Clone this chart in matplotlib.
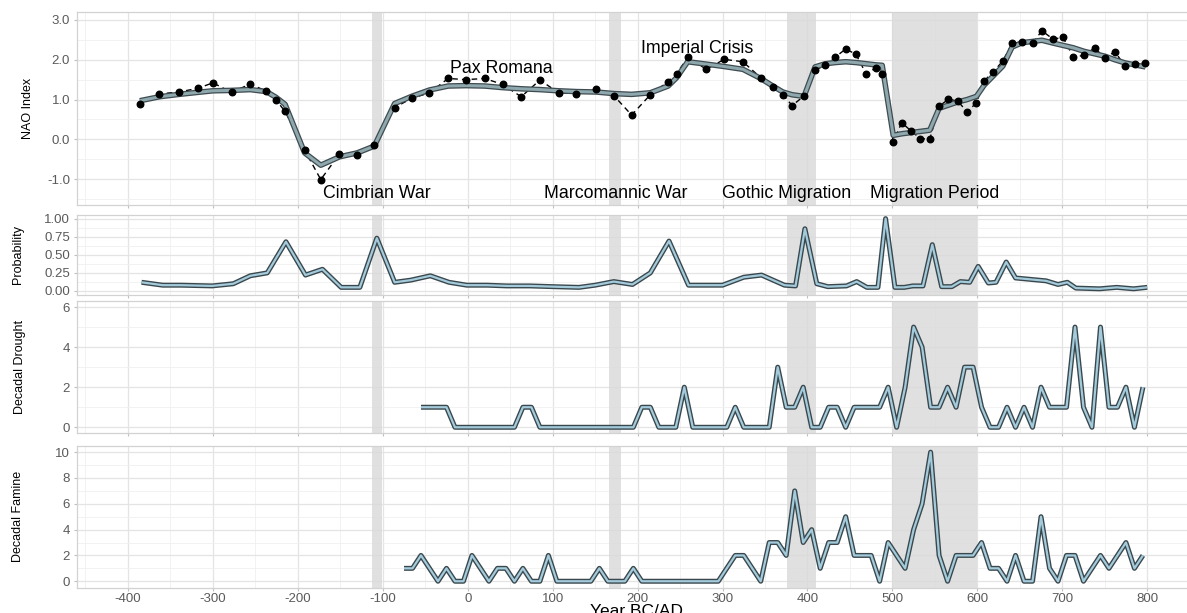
import numpy as np
import matplotlib
matplotlib.use("Agg")
import matplotlib.pyplot as plt
from matplotlib.ticker import MultipleLocator, FormatStrFormatter

plt.rcParams["font.family"] = ["Liberation Sans", "DejaVu Sans"]
plt.rcParams["axes.unicode_minus"] = False

# NAO reconstruction: observed points and smoothed curve
nao_year = [-386, -363, -340, -318, -300, -278, -256, -237, -226, -215, -192, -173, -151, -130,
            -110, -86, -66, -45, -23, -2, 20, 41, 63, 85, 107, 128, 151, 172, 193, 215, 236, 246,
            259, 281, 302, 324, 345, 360, 371, 382, 396, 409, 421, 433, 445, 457, 469, 481, 488,
            501, 511, 522, 533, 544, 555, 566, 577, 588, 599, 608, 619, 630, 641, 653, 665, 676,
            689, 701, 713, 726, 738, 750, 762, 774, 786, 798]
nao_obs = [0.90, 1.14, 1.19, 1.28, 1.42, 1.18, 1.39, 1.21, 1.00, 0.70, -0.27, -1.01, -0.37, -0.40,
           -0.15, 0.80, 1.03, 1.17, 1.53, 1.50, 1.53, 1.38, 1.07, 1.49, 1.17, 1.15, 1.26, 1.10, 0.61,
           1.12, 1.45, 1.65, 2.06, 1.76, 2.01, 1.95, 1.55, 1.32, 1.12, 0.85, 1.09, 1.74, 1.86, 2.07,
           2.27, 2.14, 1.65, 1.80, 1.65, -0.06, 0.42, 0.21, 0.02, 0.00, 0.83, 1.01, 0.96, 0.69, 0.92,
           1.47, 1.70, 1.97, 2.41, 2.45, 2.41, 2.73, 2.52, 2.56, 2.07, 2.11, 2.30, 2.05, 2.20, 1.84,
           1.89, 1.93]
nao_smooth = [0.97, 1.07, 1.13, 1.18, 1.22, 1.23, 1.25, 1.20, 1.06, 0.88, -0.34, -0.65, -0.44, -0.34,
              -0.17, 0.90, 1.08, 1.24, 1.34, 1.35, 1.34, 1.30, 1.27, 1.25, 1.22, 1.20, 1.19, 1.15, 1.13,
              1.17, 1.34, 1.55, 1.95, 1.89, 1.83, 1.76, 1.53, 1.33, 1.19, 1.12, 1.08, 1.82, 1.90, 1.93,
              1.95, 1.93, 1.90, 1.87, 1.86, 0.10, 0.14, 0.17, 0.20, 0.23, 0.78, 0.86, 0.94, 1.00, 1.08,
              1.36, 1.60, 1.84, 2.32, 2.43, 2.46, 2.49, 2.42, 2.36, 2.30, 2.21, 2.15, 2.09, 2.00, 1.92,
              1.87, 1.82]

# probability series
prob_year = [-384, -359, -337, -301, -276, -256, -236, -214, -191, -171, -149, -127, -107, -86, -67,
             -44, -22, -1, 23, 46, 73, 100, 131, 150, 172, 194, 215, 237, 260, 300, 325, 346, 373,
             386, 397, 411, 424, 446, 458, 470, 483, 492, 503, 514, 524, 536, 547, 558, 570, 580,
             591, 601, 613, 622, 634, 645, 681, 695, 706, 716, 744, 764, 784, 800]
prob_val = [0.12, 0.08, 0.08, 0.07, 0.10, 0.21, 0.25, 0.68, 0.22, 0.30, 0.05, 0.05, 0.73, 0.12, 0.15,
            0.21, 0.12, 0.08, 0.08, 0.07, 0.07, 0.06, 0.05, 0.08, 0.13, 0.09, 0.25, 0.69, 0.08, 0.08,
            0.19, 0.22, 0.08, 0.07, 0.86, 0.10, 0.06, 0.07, 0.13, 0.05, 0.05, 1.00, 0.05, 0.05, 0.07,
            0.07, 0.64, 0.06, 0.06, 0.13, 0.12, 0.34, 0.11, 0.12, 0.40, 0.18, 0.14, 0.09, 0.12, 0.04,
            0.03, 0.05, 0.03, 0.05]

# decadal drought counts, -55 .. 795
drought_year = list(range(-55, 796, 10))
drought_val = [1, 1, 1, 1, 0, 0, 0, 0, 0, 0, 0, 0, 1, 1, 0, 0, 0, 0, 0, 0, 0, 0, 0, 0, 0, 0,
               1, 1, 0, 0, 0, 2, 0, 0, 0, 0, 0, 1, 0, 0, 0, 0, 3, 1, 1, 2, 0, 0, 1, 1, 0, 1,
               1, 1, 1, 2, 0, 2, 5, 4, 1, 1, 2, 1, 3, 3, 1, 0, 0, 1, 0, 1, 0, 2, 1, 1, 1, 5,
               1, 0, 5, 1, 1, 2, 0, 2]

# decadal famine counts, -75 .. 795
famine_year = list(range(-75, 796, 10))
famine_val = [1, 1, 2, 1, 0, 1, 0, 0, 2, 1, 0, 1, 1, 0, 1, 0, 0, 2, 0, 0, 0, 0, 0, 1, 0, 0,
              0, 1, 0, 0, 0, 0, 0, 0, 0, 0, 0, 0, 1, 2, 2, 1, 0, 3, 3, 2, 7, 3, 4, 1, 3, 3,
              5, 2, 2, 2, 0, 3, 2, 1, 4, 6, 10, 2, 0, 2, 2, 2, 3, 1, 1, 0, 2, 0, 0, 5, 1, 0,
              2, 2, 0, 1, 2, 1, 2, 3, 1, 2]

# historical periods shaded on every panel
periods = [(-113, -101), (166, 180), (376, 410), (500, 600)]
period_labels = ["Cimbrian War", "Marcomannic War", "Gothic Migration", "Migration Period"]
period_label_x = [-107, 174, 375, 550]

W, H = 1187, 613
fig = plt.figure(figsize=(W / 100, H / 100), dpi=100)


def panel(top, bottom):
    left = 77
    return fig.add_axes([left / W, 1 - bottom / H, 1122 / W, (bottom - top) / H])


ax1 = panel(12, 205)
ax2 = panel(215, 294.6)
ax3 = panel(301, 433.3)
ax4 = panel(445.7, 587.7)
axes = [ax1, ax2, ax3, ax4]

for ax in axes:
    ax.set_xlim(-460, 861)
    ax.set_axisbelow(True)
    ax.xaxis.set_major_locator(MultipleLocator(100))
    ax.xaxis.set_minor_locator(MultipleLocator(50))
    ax.grid(which="major", color="#e4e4e4", lw=0.9)
    ax.grid(which="minor", color="#f0f0f0", lw=0.6)
    for s in ax.spines.values():
        s.set_color("#d2d2d2")
        s.set_linewidth(0.9)
    ax.tick_params(which="major", length=2.5, width=0.8, color="#c0c0c0",
                   labelcolor="#5a5a5a", labelsize=9.5, pad=2.5)
    ax.tick_params(axis="x", pad=1.2)
    ax.tick_params(which="minor", length=0)
    if ax is not ax4:
        ax.tick_params(axis="x", labelbottom=False)
    for a, b in periods:
        ax.axvspan(a, b, color="#d9d9d9", alpha=0.8, lw=0, zorder=1)


def double_line(ax, x, y, outer, inner, w_out, w_in):
    ax.plot(x, y, color=outer, lw=w_out, solid_joinstyle="round",
            solid_capstyle="butt", zorder=3)
    ax.plot(x, y, color=inner, lw=w_in, solid_joinstyle="round",
            solid_capstyle="butt", zorder=4)


# NAO panel
ax1.plot(nao_year, nao_obs, color="black", lw=1.0, ls=(0, (4, 3)), zorder=2)
ax1.scatter(nao_year, nao_obs, s=22, color="black", zorder=5)
double_line(ax1, nao_year, nao_smooth, "#3e4b50", "#8ea8ad", 4.0, 2.2)
ax1.set_ylim(-1.65, 3.2)
ax1.yaxis.set_major_locator(MultipleLocator(1))
ax1.yaxis.set_minor_locator(MultipleLocator(0.5))
ax1.yaxis.set_major_formatter(FormatStrFormatter("%.1f"))
for lab, xx in zip(period_labels, period_label_x):
    ax1.text(xx, -1.36, lab, ha="center", va="center", fontsize=12.8, color="black")
ax1.text(39, 1.78, "Pax Romana", ha="center", va="center", fontsize=12.8)
ax1.text(270, 2.28, "Imperial Crisis", ha="center", va="center", fontsize=12.8)

# probability panel
double_line(ax2, prob_year, prob_val, "#3a484d", "#a4cbdb", 3.6, 1.6)
ax2.set_ylim(-0.05, 1.05)
ax2.yaxis.set_major_locator(MultipleLocator(0.25))
ax2.yaxis.set_minor_locator(MultipleLocator(0.125))
ax2.yaxis.set_major_formatter(FormatStrFormatter("%.2f"))

# drought panel
double_line(ax3, drought_year, drought_val, "#3a484d", "#a4cbdb", 3.6, 1.6)
ax3.set_ylim(-0.3, 6.3)
ax3.yaxis.set_major_locator(MultipleLocator(2))
ax3.yaxis.set_minor_locator(MultipleLocator(1))
ax3.yaxis.set_major_formatter(FormatStrFormatter("%d"))

# famine panel
double_line(ax4, famine_year, famine_val, "#3a484d", "#a4cbdb", 3.6, 1.6)
ax4.set_ylim(-0.5, 10.5)
ax4.yaxis.set_major_locator(MultipleLocator(2))
ax4.yaxis.set_minor_locator(MultipleLocator(1))
ax4.yaxis.set_major_formatter(FormatStrFormatter("%d"))
ax4.set_xlabel("Year BC/AD", fontsize=12.5, color="black")
ax4.xaxis.set_label_coords(0.499, -0.115)

ylabels = ["NAO Index", "Probability", "Decadal Drought", "Decadal Famine"]
ylab_x = [28, 18, 20, 18]
for ax, lab, px in zip(axes, ylabels, ylab_x):
    ax.set_ylabel(lab, fontsize=9.0, color="black")
    ax.yaxis.set_label_coords((px - 77) / 1122, 0.5)
    ax.yaxis.label.set_va("center")

fig.savefig("out.png", dpi=100)
